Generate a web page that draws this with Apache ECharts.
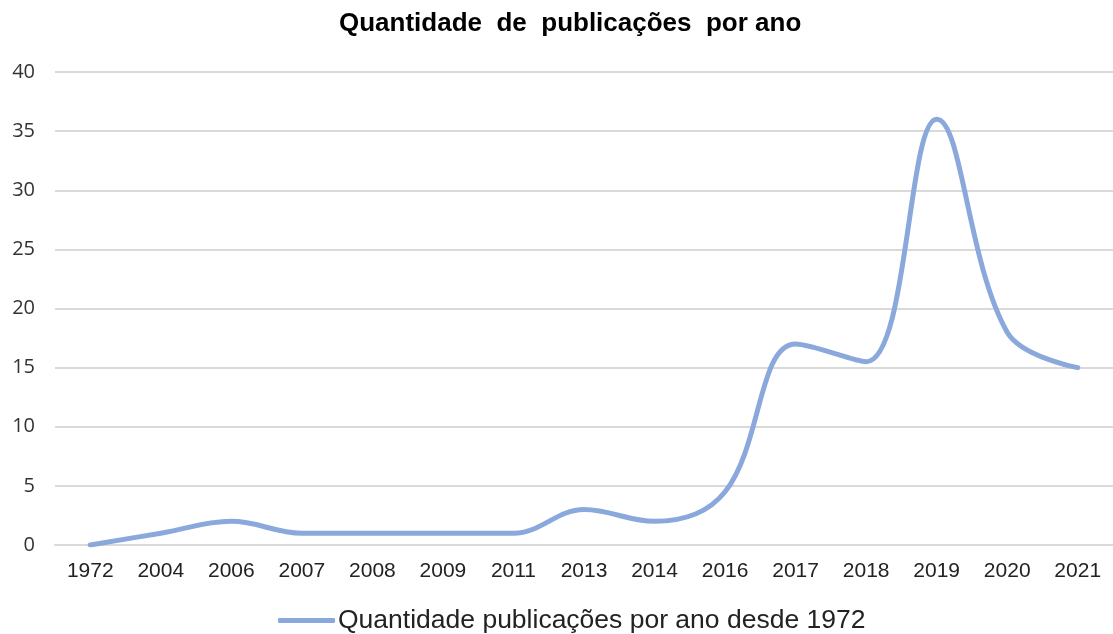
<!DOCTYPE html>
<html>
<head>
<meta charset="utf-8">
<script src="https://cdn.jsdelivr.net/npm/echarts@6/dist/echarts.min.js"></script>
<style>
html,body{margin:0;padding:0;background:#fff;}
#c{width:1113px;height:634px;}
</style>
</head>
<body>
<div id="c"></div>
<script>
var categories = ['1972','2004','2006','2007','2008','2009','2011','2013','2014','2016','2017','2018','2019','2020','2021'];
var values = [0, 1, 2, 1, 1, 1, 1, 3, 2, 4.5, 17, 15.5, 36, 18, 15];
var seriesName = 'Quantidade publicações por ano desde 1972';
var titleText = 'Quantidade  de  publicações  por ano';

var chart = echarts.init(document.getElementById('c'));
chart.setOption({
  animation: false,
  backgroundColor: '#fff',
  title: {
    text: titleText,
    left: 334,
    top: 6,
    textStyle: {fontFamily: 'Liberation Sans, Arial', fontWeight: 'bold', fontSize: 26, color: '#000'}
  },
  legend: {
    bottom: -5,
    left: 273,
    itemWidth: 57,
    itemHeight: 5,
    itemGap: 0,
    icon: 'roundRect',
    data: [{name: seriesName}],
    textStyle: {fontFamily: 'Liberation Sans, Arial', fontSize: 26.5, color: '#222', padding: [0,0,0,-2]}
  },
  grid: {left: 55, right: -4, top: 72, bottom: 89, containLabel: false},
  xAxis: {
    type: 'category',
    data: categories,
    boundaryGap: true,
    axisLine: {show: true, lineStyle: {color: '#d9d9d9', width: 2}},
    axisTick: {show: false},
    axisLabel: {fontFamily: 'Liberation Sans, Arial', fontSize: 21, color: '#222', margin: 16}
  },
  yAxis: {
    type: 'value',
    min: 0, max: 40, interval: 5,
    axisLine: {show: false},
    axisTick: {show: false},
    splitLine: {lineStyle: {color: '#d9d9d9', width: 2}},
    axisLabel: {fontFamily: 'Open Sans, DejaVu Sans', fontSize: 20, color: '#333', margin: 20}
  },
  series: [{
    name: seriesName,
    type: 'line',
    data: values,
    smooth: 0.38,
    symbol: 'none',
    lineStyle: {color: '#8aa8dc', width: 5, cap: 'round'},
    itemStyle: {color: '#8aa8dc'}
  }]
});
</script>
</body>
</html>
